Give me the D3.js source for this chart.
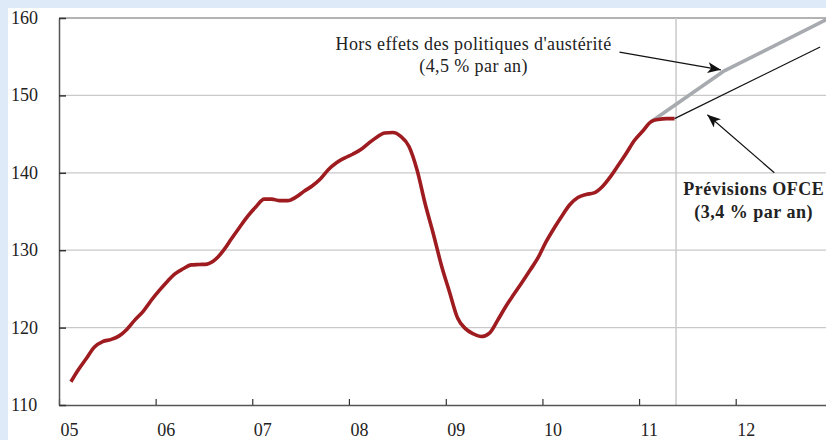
<!DOCTYPE html>
<html>
<head>
<meta charset="utf-8">
<script src="https://cdn.jsdelivr.net/npm/d3@7"></script>
<style>
    body { margin: 0; }
    svg { display: block; font-family: 'Liberation Serif', 'DejaVu Serif', serif; }
</style>
</head>
<body>
<div id="chart"></div>
<script>
// monthly index, observed (mid-month points)
const months = [
    '2005-02', '2005-03', '2005-04', '2005-05', '2005-06', '2005-07', '2005-08', '2005-09', '2005-10', '2005-11', '2005-12',
    '2006-01', '2006-02', '2006-03', '2006-04', '2006-05', '2006-06', '2006-07', '2006-08', '2006-09', '2006-10', '2006-11', '2006-12',
    '2007-01', '2007-02', '2007-03', '2007-04', '2007-05', '2007-06', '2007-07', '2007-08', '2007-09', '2007-10', '2007-11', '2007-12',
    '2008-01', '2008-02', '2008-03', '2008-04', '2008-05', '2008-06', '2008-07', '2008-08', '2008-09', '2008-10', '2008-11', '2008-12',
    '2009-01', '2009-02', '2009-03', '2009-04', '2009-05', '2009-06', '2009-07', '2009-08', '2009-09', '2009-10', '2009-11', '2009-12',
    '2010-01', '2010-02', '2010-03', '2010-04', '2010-05', '2010-06', '2010-07', '2010-08', '2010-09', '2010-10', '2010-11', '2010-12',
    '2011-01', '2011-02', '2011-03', '2011-04', '2011-05'
];
const observed = [
    113.0, 114.55, 116.05, 117.5, 118.2, 118.45, 118.9, 119.8, 121.0, 122.1, 123.5,
    124.8, 126.0, 126.95, 127.6, 128.1, 128.15, 128.2, 128.8, 130.0, 131.5, 133.0, 134.4,
    135.6, 136.6, 136.6, 136.4, 136.4, 136.85, 137.6, 138.3, 139.2, 140.4, 141.3, 141.9,
    142.4, 143.0, 143.8, 144.6, 145.15, 145.2, 144.7, 143.4, 140.3, 136.0, 132.1, 128.1,
    124.6, 121.2, 119.9, 119.2, 118.85, 119.3, 120.9, 122.7, 124.3, 125.8, 127.4, 129.0,
    131.1, 132.9, 134.4, 135.9, 136.8, 137.2, 137.4, 138.2, 139.5, 141.0, 142.6, 144.2,
    145.4, 146.6, 146.9, 147.0, 147.0
];

// scenario without austerity (4,5 % par an)
const noAusterityMonths = ['2011-02', '2011-11', '2012-12'];
const noAusterity = [146.6, 153.1, 159.9];

// OFCE forecast (3,4 % par an)
const ofceMonths = ['2011-05', '2012-11'];
const ofce = [147.0, 156.25];

const yTicks = [110, 120, 130, 140, 150, 160];
const yearTicks = ['2005', '2006', '2007', '2008', '2009', '2010', '2011', '2012'];

const width = 826, height = 440;
const marginLeft = 59, plotTop = 18, plotBottom = 405;
const yearWidth = 96.7;

const parseMonth = d3.timeParse('%Y-%m');
const midMonth = s => d3.timeDay.offset(parseMonth(s), 14);
const parseYear = d3.timeParse('%Y');

const svg = d3.select('#chart').append('svg')
    .attr('width', width)
    .attr('height', height);

svg.append('rect')
    .attr('width', width)
    .attr('height', height)
    .attr('fill', '#deeaf7');
svg.append('rect')
    .attr('x', 8)
    .attr('y', 8)
    .attr('width', width - 8)
    .attr('height', height - 8)
    .attr('fill', '#ffffff');

const x = d3.scaleTime()
    .domain([parseYear('2005'), parseYear('2013')])
    .range([marginLeft, marginLeft + 8 * yearWidth]);
const y = d3.scaleLinear()
    .domain([110, 160])
    .range([plotBottom, plotTop]);

// gridlines
svg.append('g')
    .selectAll('line')
    .data(yTicks.filter(d => d > 110))
    .enter()
    .append('line')
    .attr('x1', marginLeft)
    .attr('x2', width)
    .attr('y1', d => y(d))
    .attr('y2', d => y(d))
    .attr('stroke', d => d === 160 ? '#9a9a9a' : '#c9c9c9')
    .attr('stroke-width', d => d === 160 ? 1.5 : 1.2);

// forecast boundary
const lastObs = midMonth(months[months.length - 1]);
svg.append('line')
    .attr('x1', x(lastObs) + 1.5)
    .attr('x2', x(lastObs) + 1.5)
    .attr('y1', plotTop)
    .attr('y2', plotBottom)
    .attr('stroke', '#c9c9c9')
    .attr('stroke-width', 1.5);

// axes
const xAxis = d3.axisBottom(x)
    .tickValues(yearTicks.map(parseYear))
    .tickFormat(d3.timeFormat('%y'))
    .tickSize(-6)
    .tickSizeOuter(0);
const gx = svg.append('g')
    .attr('transform', `translate(0, ${plotBottom})`)
    .call(xAxis);
gx.select('.domain').attr('stroke', '#555').attr('stroke-width', 1.5);
gx.selectAll('.tick line').attr('stroke', '#333').attr('stroke-width', 1.2);
gx.selectAll('.tick text')
    .attr('text-anchor', 'start')
    .attr('x', 1)
    .attr('y', 31)
    .attr('dy', null)
    .style('font-size', '18px')
    .style('font-family', "'Liberation Serif', serif")
    .attr('fill', '#222');

const yAxis = d3.axisLeft(y)
    .tickValues(yTicks)
    .tickSize(-7)
    .tickSizeOuter(0);
const gy = svg.append('g')
    .attr('transform', `translate(${marginLeft}, 0)`)
    .call(yAxis);
gy.select('.domain').attr('stroke', '#555').attr('stroke-width', 1.5);
gy.selectAll('.tick line').attr('stroke', '#333').attr('stroke-width', 1.5);
gy.selectAll('.tick text')
    .attr('text-anchor', 'start')
    .attr('x', 11 - marginLeft)
    .attr('dy', '0.3em')
    .style('font-size', '18px')
    .style('font-family', "'Liberation Serif', serif")
    .attr('fill', '#222');

// series
const line = d3.line()
    .x(d => x(d[0]))
    .y(d => y(d[1]));

svg.append('path')
    .datum(noAusterityMonths.map((m, i) => [midMonth(m), noAusterity[i]]))
    .attr('d', line.curve(d3.curveLinear))
    .attr('fill', 'none')
    .attr('stroke', '#a7abaf')
    .attr('stroke-width', 3.6)
    .attr('stroke-linejoin', 'round');

svg.append('path')
    .datum(ofceMonths.map((m, i) => [midMonth(m), ofce[i]]))
    .attr('d', line.curve(d3.curveLinear))
    .attr('fill', 'none')
    .attr('stroke', '#111')
    .attr('stroke-width', 1.2);

svg.append('path')
    .datum(months.map((m, i) => [midMonth(m), observed[i]]))
    .attr('d', line.curve(d3.curveMonotoneX))
    .attr('fill', 'none')
    .attr('stroke', '#9e1b20')
    .attr('stroke-width', 3.6)
    .attr('stroke-linejoin', 'round');

// annotations
svg.append('defs').append('marker')
    .attr('id', 'arrow')
    .attr('viewBox', '0 0 12 10')
    .attr('refX', 12)
    .attr('refY', 5)
    .attr('markerUnits', 'userSpaceOnUse')
    .attr('markerWidth', 14)
    .attr('markerHeight', 11)
    .attr('orient', 'auto')
    .append('path')
    .attr('d', 'M0,0 L12,5 L0,10 L3,5 Z')
    .attr('fill', '#111');

const annotations = [
    {
        lines: ["Hors effets des politiques d'austérité", '(4,5 % par an)'],
        at: ['2009-04-16', 155.9], bold: false,
        from: ['2010-10-19', 155.6], to: ['2011-11-06', 153.3]
    },
    {
        lines: ['Prévisions OFCE', '(3,4 % par an)'],
        at: ['2012-03-09', 137.1], bold: true,
        from: ['2012-05-26', 140.0], to: ['2011-09-16', 147.5]
    }
];
const parseDay = d3.timeParse('%Y-%m-%d');

annotations.forEach(a => {
    svg.append('line')
        .attr('x1', x(parseDay(a.from[0])))
        .attr('y1', y(a.from[1]))
        .attr('x2', x(parseDay(a.to[0])))
        .attr('y2', y(a.to[1]))
        .attr('stroke', '#111')
        .attr('stroke-width', 1.2)
        .attr('marker-end', 'url(#arrow)');
    let t = svg.append('text')
        .attr('x', x(parseDay(a.at[0])))
        .attr('y', y(a.at[1]))
        .attr('text-anchor', 'middle')
        .style('font-size', '18px')
        .style('letter-spacing', a.bold ? '0.5px' : '0.4px')
        .style('font-weight', a.bold ? 'bold' : 'normal')
        .attr('fill', '#222');
    a.lines.forEach((l, i) => {
        t.append('tspan')
            .attr('x', x(parseDay(a.at[0])))
            .attr('dy', i === 0 ? 0 : 22.5)
            .text(l);
    });
});
</script>
</body>
</html>
